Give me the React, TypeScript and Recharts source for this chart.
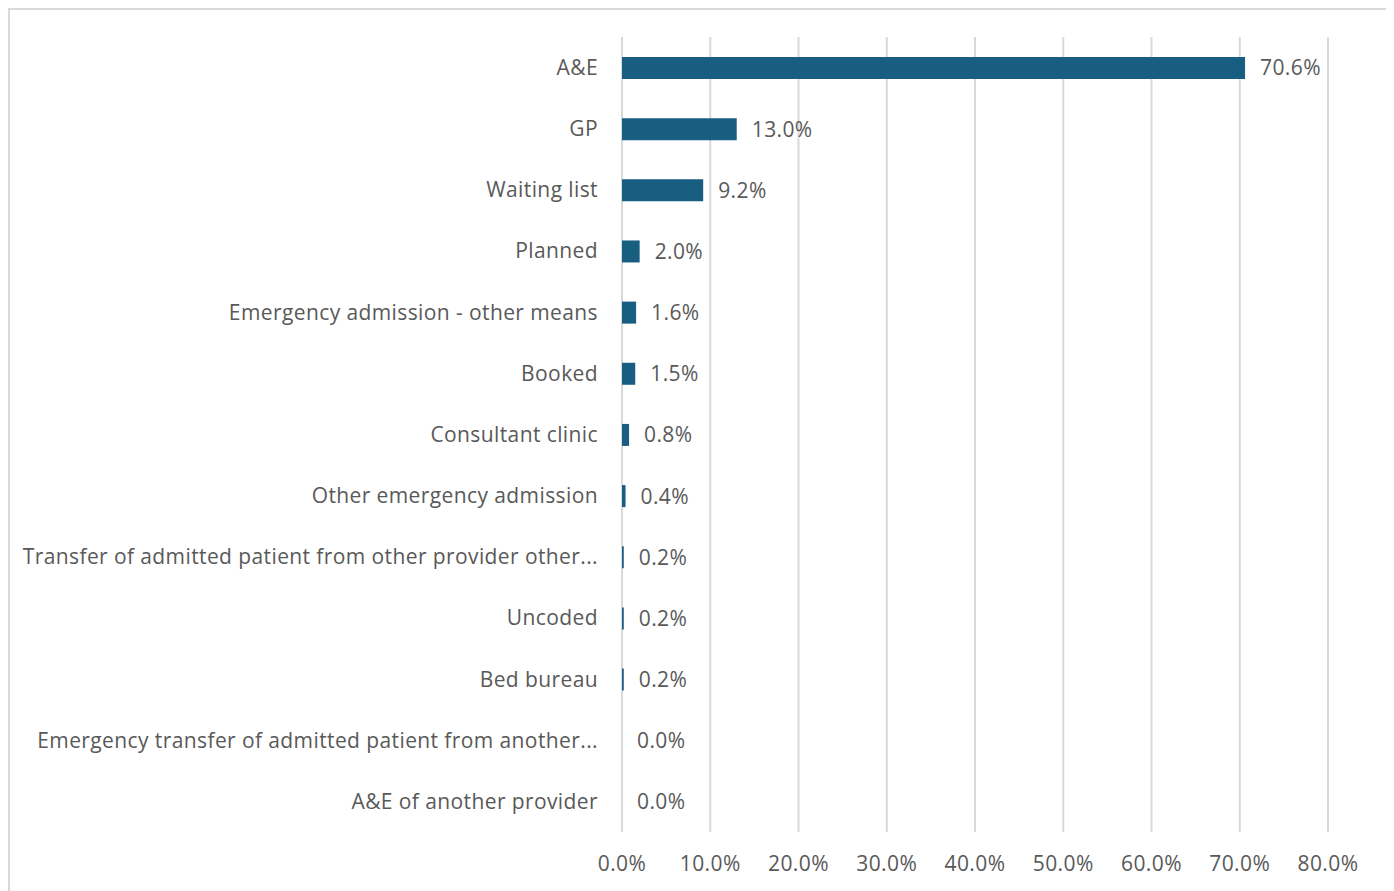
import { Bar, BarChart, CartesianGrid, LabelList, XAxis, YAxis } from "recharts";

const categories = [
  "A&E",
  "GP",
  "Waiting list",
  "Planned",
  "Emergency admission - other means",
  "Booked",
  "Consultant clinic",
  "Other emergency admission",
  "Transfer of admitted patient from other provider other...",
  "Uncoded",
  "Bed bureau",
  "Emergency transfer of admitted patient from another...",
  "A&E of another provider",
];

const shares = [70.6, 13.0, 9.2, 2.0, 1.6, 1.5, 0.8, 0.4, 0.2, 0.2, 0.2, 0.0, 0.0];

const xTicks = [0, 10, 20, 30, 40, 50, 60, 70, 80];

const data = categories.map((name, i) => ({ name, value: shares[i] }));

const FONT = "'Open Sans', 'Noto Sans', sans-serif";
const GREY = "#595959";
const textStyle = { fill: GREY, fontSize: 21, fontFamily: FONT, letterSpacing: 0.4 };

export default function App() {
  return (
    <div style={{ width: 1380, height: 896, border: "2px solid #d9d9d9", background: "#fff" }}>
      <BarChart
        width={1380}
        height={896}
        data={data}
        layout="vertical"
        margin={{ top: 27, right: 62, bottom: 0, left: 0 }}
        barSize={22}
      >
        <CartesianGrid horizontal={false} stroke="#d9d9d9" strokeWidth={2} />
        <XAxis
          type="number"
          domain={[0, 80]}
          ticks={xTicks}
          interval={0}
          axisLine={false}
          tickLine={false}
          tickSize={0}
          tickMargin={24}
          height={74}
          tickFormatter={(v: number) => `${v.toFixed(1)}%`}
          tick={textStyle}
        />
        <YAxis
          type="category"
          dataKey="name"
          width={612}
          interval={0}
          axisLine={false}
          tickLine={false}
          tickSize={0}
          tickMargin={24}
          tick={textStyle}
        />
        <Bar dataKey="value" fill="#175e80" minPointSize={0.01} isAnimationActive={false}>
          <LabelList
            dataKey="value"
            position="right"
            offset={15}
            formatter={(v: number) => `${Number(v).toFixed(1)}%`}
            style={textStyle}
          />
        </Bar>
      </BarChart>
    </div>
  );
}
